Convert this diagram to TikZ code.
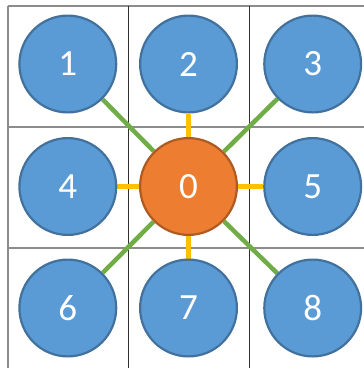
\documentclass[tikz,border=0pt]{standalone}
\usepackage{fontspec}
\setmainfont{Carlito}
\usepackage{xcolor}
\usepackage{tikz}
\usetikzlibrary{backgrounds}
\definecolor{peerblue}{HTML}{5B9BD5}
\definecolor{peeredge}{HTML}{41719C}
\definecolor{huborange}{HTML}{ED7D31}
\definecolor{hubedge}{HTML}{AE5A21}
\definecolor{sideyellow}{HTML}{FFC000}
\definecolor{diaggreen}{HTML}{70AD47}
\definecolor{gridgrey}{HTML}{8C8C8C}
\definecolor{griddark}{HTML}{303030}

\begin{document}
\begin{tikzpicture}[
    x=1pt, y=-1pt,
    peer/.style={
      circle, draw=peeredge, fill=peerblue, line width=2.2pt,
      minimum size=96.8pt, inner sep=0pt, text=white,
      font=\fontsize{37}{40}\selectfont
    },
    hub/.style={peer, draw=hubedge, fill=huborange},
    side/.style={line width=5pt, sideyellow},
    diag/.style={line width=4.5pt, diaggreen},
    rule/.style={line width=1.2pt, gridgrey},
    split/.style={line width=1pt, griddark}
  ]
  \useasboundingbox (0,0) rectangle (364,368);

  \node[hub] (n0) at (188.5,186.5) {0};
  \foreach \n/\x/\y in {1/67.8/64, 2/188.5/64, 3/312.7/64,
                        4/67.8/186.5, 5/312.7/186.5,
                        6/67.8/308, 7/188.5/308, 8/312.7/308}
    {\node[peer] (n\n) at (\x,\y) {\n};}

  \begin{scope}[on background layer]
    % grid behind everything
    \foreach \y in {6,127,248} {\draw[rule] (8,\y) -- (364,\y);}
    \draw[rule] (8,6) -- (8,368);
    \foreach \x in {129,250} {\draw[split] (\x,6) -- (\x,368);}

    \foreach \p in {2,4,5,7} {\draw[side] (n0) -- (n\p);}
    \foreach \p in {1,3,6,8} {\draw[diag] (n0) -- (n\p);}
  \end{scope}
\end{tikzpicture}
\end{document}
